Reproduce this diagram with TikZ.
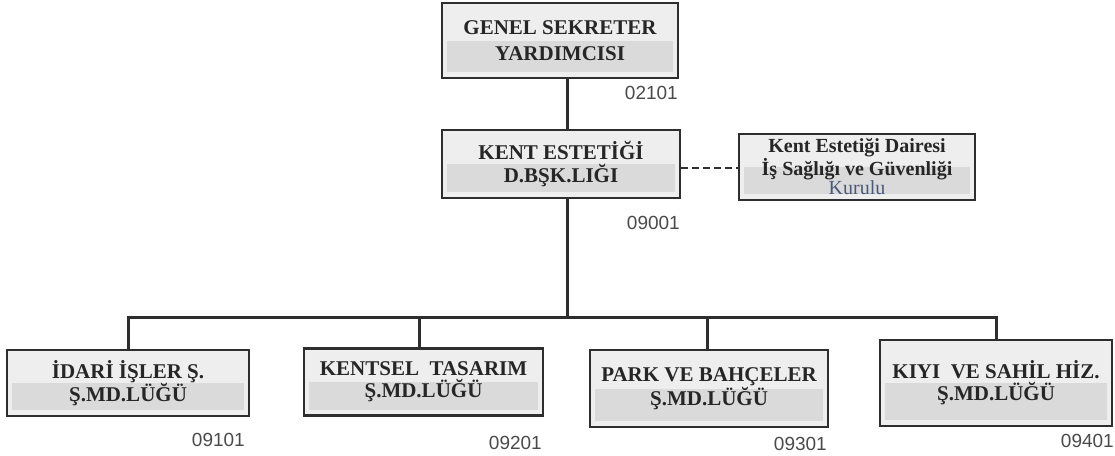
\documentclass[tikz,border=0pt]{standalone}
\usepackage{fontspec}
\setmainfont{Liberation Serif}
\setsansfont{Liberation Sans}
\definecolor{linecol}{HTML}{2E2E2E}
\definecolor{boxlight}{HTML}{EEEEEE}
\definecolor{boxband}{HTML}{DADADA}
\definecolor{textcol}{HTML}{262626}
\definecolor{codecol}{HTML}{4A4A4A}
\definecolor{kurulucol}{HTML}{4A5878}
\tikzset{
  box/.style={draw=linecol, line width=2.4pt, fill=boxlight, inner sep=0pt, align=center,
    text=textcol, font=\bfseries\fontsize{21}{22}\selectfont,
    path picture={\fill[boxband] ([xshift=5pt]path picture bounding box.west) rectangle ([xshift=-5pt,yshift=6pt]path picture bounding box.south east);}},
  code/.style={font=\sffamily\fontsize{19}{20}\selectfont, text=codecol, anchor=east, inner sep=0pt},
  conn/.style={draw=linecol, line width=3pt},
  dconn/.style={draw=linecol, line width=2.6pt, dash pattern=on 7pt off 4pt}
}
\begin{document}
\begin{tikzpicture}[x=1pt,y=-1pt]
\useasboundingbox (0,0) rectangle (1115,455);
% boxes
\node[box, minimum width=236pt, minimum height=75pt, font=\bfseries\fontsize{21}{26}\selectfont] (top) at (560,40.5) {GENEL SEKRETER\\YARDIMCISI};
\node[box, minimum width=238pt, minimum height=68pt, font=\bfseries\fontsize{21}{23}\selectfont] (mid) at (561,164) {KENT ESTETİĞİ\\D.BŞK.LIĞI};
\node[box, minimum width=236pt, minimum height=66pt, font=\bfseries\fontsize{20}{20.5}\selectfont] (rt) at (857,167) {Kent Estetiği Dairesi\\İş Sağlığı ve Güvenliği\\[-1pt]{\mdseries\color{kurulucol}Kurulu}};
\node[box, minimum width=242pt, minimum height=66pt] (b1) at (128,383) {İDARİ İŞLER Ş.\\Ş.MD.LÜĞÜ};
\node[box, minimum width=239pt, minimum height=67pt] (b2) at (423.5,382) {KENTSEL\ \ TASARIM\\Ş.MD.LÜĞÜ};
\node[box, minimum width=238pt, minimum height=77pt] (b3) at (709,388.5) {PARK VE BAHÇELER\\Ş.MD.LÜĞÜ};
\node[box, minimum width=232pt, minimum height=86pt] (b4) at (996,383) {KIYI\ \ VE SAHİL HİZ.\\Ş.MD.LÜĞÜ};
% codes
\node[code] (c0) at (678,93) {02101};
\node[code] (c1) at (680,223) {09001};
\node[code] (c2) at (245,440) {09101};
\node[code] (c3) at (542,443) {09201};
\node[code] (c4) at (827,444) {09301};
\node[code] (c5) at (1114,441) {09401};
% helper coordinates
\coordinate (v) at (567,0);
\coordinate (bus) at (0,317);
\coordinate (dy) at (0,168);
\coordinate (d1) at (128,0);
\coordinate (d2) at (419,0);
\coordinate (d3) at (707,0);
\coordinate (d4) at (996,0);
% connectors
\draw[conn] (top.south -| v) -- (mid.north -| v);
\draw[conn] (mid.south -| v) -- (v |- bus);
\draw[conn] (b1.north -| d1) -- (d1 |- bus) -- (d4 |- bus) -- (b4.north -| d4);
\draw[conn] (d2 |- bus) -- (b2.north -| d2);
\draw[conn] (d3 |- bus) -- (b3.north -| d3);
\draw[dconn] (mid.east |- dy) -- (rt.west |- dy);
\end{tikzpicture}
\end{document}
